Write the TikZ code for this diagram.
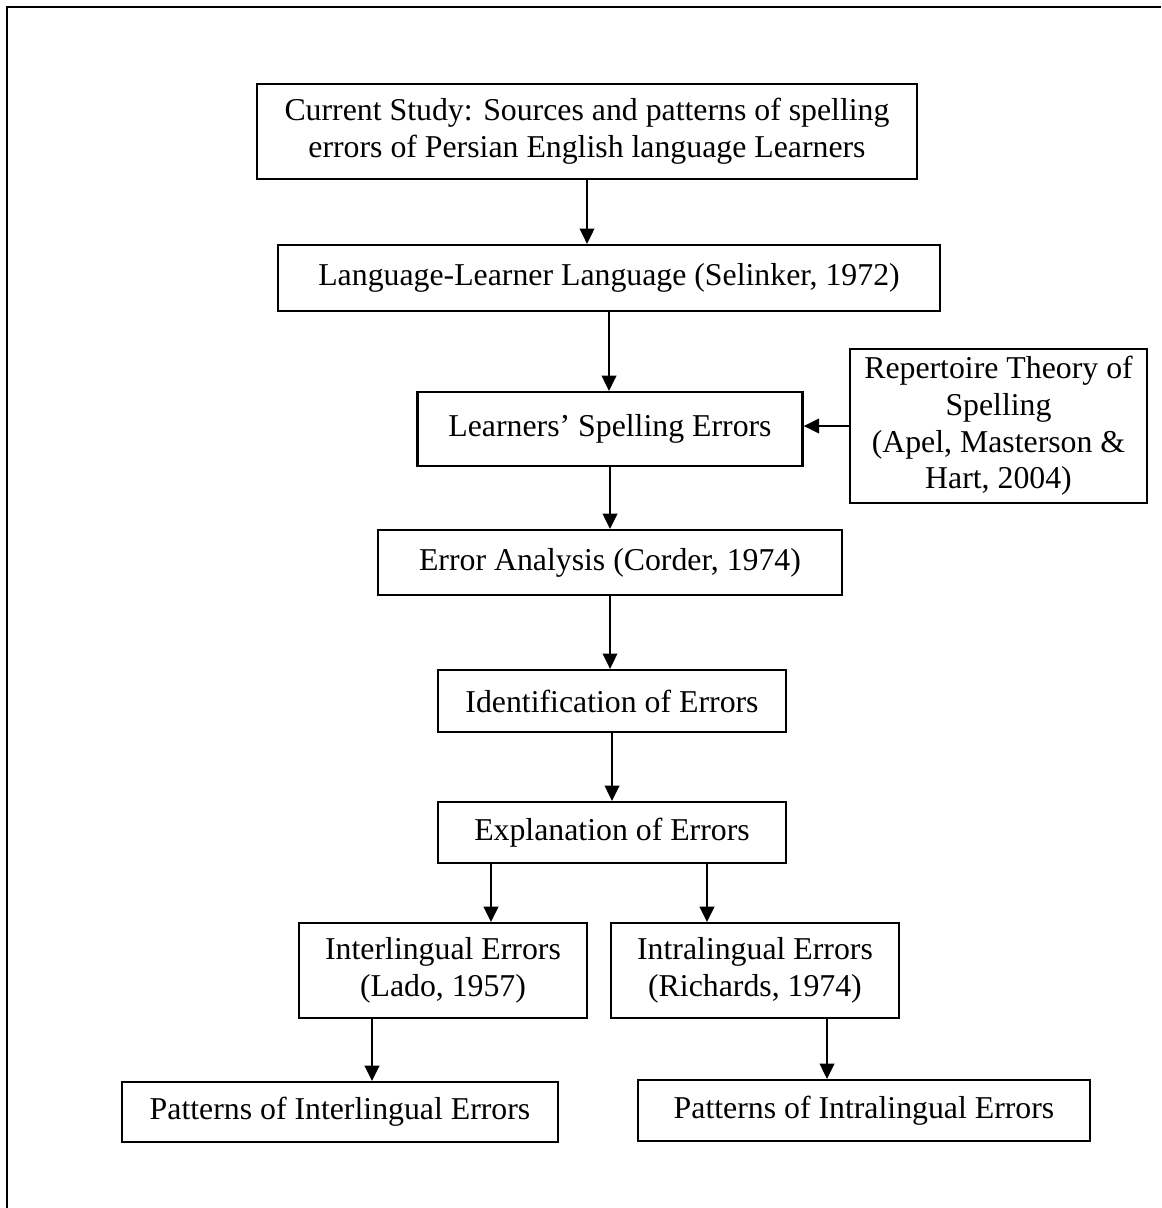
\documentclass[tikz,border=0pt]{standalone}
\usepackage{fontspec}
\setmainfont{Liberation Serif}
\usetikzlibrary{arrows.meta,calc}
\tikzset{
  box/.style={draw,line width=0.85pt,inner sep=0pt,align=center,
    font=\fontsize{12pt}{13.8pt}\selectfont},
  arr/.style={line width=0.85pt,-{Triangle[length=5.8pt,width=5.5pt]}}
}
\begin{document}
\begin{tikzpicture}[x=0.3774pt,y=-0.3774pt]
  \useasboundingbox (0,0) rectangle (1161,1208);
  \draw (7,1208) -- (7,7) -- (1161,7)[line width=0.85pt];
  \node[box,minimum width=249pt,minimum height=35.8pt] (study) at (587,131.5)
    {Current Study: Sources and patterns of spelling\\errors of Persian English language Learners};
  \node[box,minimum width=249.8pt,minimum height=24.9pt] (learnerlang) at (609,278)
    {Language-Learner Language (Selinker, 1972)};
  \node[box,minimum width=145.3pt,minimum height=27.9pt] (spellerr) at (610,429)
    {Learners’ Spelling Errors};
  \node[box,minimum width=112pt,minimum height=58.1pt] (repertoire) at (998.5,426)
    {Repertoire Theory of\\Spelling\\(Apel, Masterson \&\\Hart, 2004)};
  \node[box,minimum width=175.1pt,minimum height=24.5pt] (analysis) at (610,562.5)
    {Error Analysis (Corder, 1974)};
  \node[box,minimum width=131.3pt,minimum height=23.4pt] (ident) at (612,701)
    {Identification of Errors};
  \node[box,minimum width=131.3pt,minimum height=23pt] (explain) at (612,832.5)
    {Explanation of Errors};
  \node[box,minimum width=108.7pt,minimum height=35.8pt] (inter) at (443,970.5)
    {Interlingual Errors\\(Lado, 1957)};
  \node[box,minimum width=108.7pt,minimum height=35.8pt] (intra) at (755,970.5)
    {Intralingual Errors\\(Richards, 1974)};
  \node[box,minimum width=164.5pt,minimum height=22.6pt] (patinter) at (340,1112)
    {Patterns of Interlingual Errors};
  \node[box,minimum width=170.6pt,minimum height=23pt] (patintra) at (864,1110.5)
    {Patterns of Intralingual Errors};
  \draw[arr] (study.south) -- (study.south |- learnerlang.north);
  \draw[arr] (learnerlang.south) -- (learnerlang.south |- spellerr.north);
  \draw[arr] (repertoire.west) -- (repertoire.west -| spellerr.east);
  \draw[arr] (spellerr.south) -- (spellerr.south |- analysis.north);
  \draw[arr] (analysis.south) -- (analysis.south |- ident.north);
  \draw[arr] (ident.south) -- (ident.south |- explain.north);
  \coordinate (tointer) at ($(inter.north)+(48,0)$);
  \coordinate (tointra) at ($(intra.north)+(-48,0)$);
  \draw[arr] (tointer |- explain.south) -- (tointer);
  \draw[arr] (tointra |- explain.south) -- (tointra);
  \coordinate (frominter) at ($(inter.south)+(-71,0)$);
  \coordinate (fromintra) at ($(intra.south)+(72,0)$);
  \draw[arr] (frominter) -- (frominter |- patinter.north);
  \draw[arr] (fromintra) -- (fromintra |- patintra.north);
\end{tikzpicture}
\end{document}
